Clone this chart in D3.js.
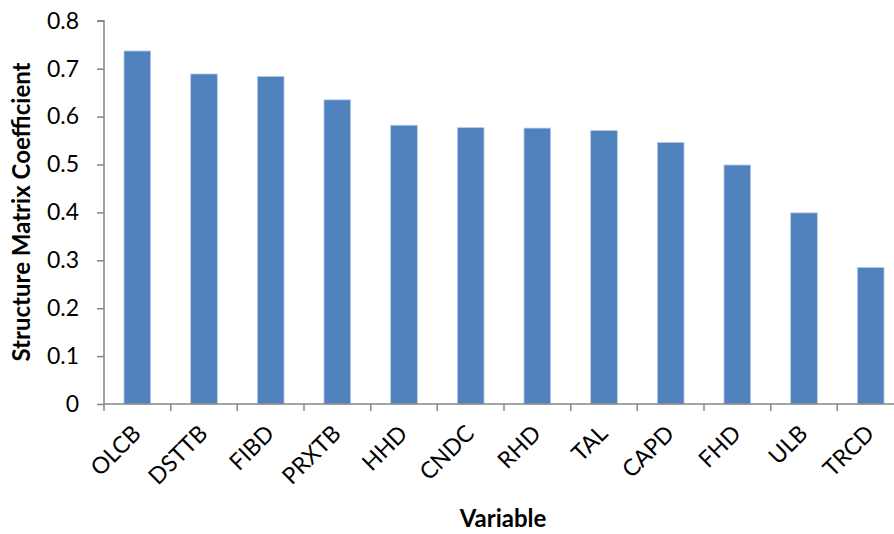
<!DOCTYPE html>
<html><head><meta charset="utf-8">
<script src="https://cdn.jsdelivr.net/npm/d3@7"></script>
<style>body{margin:0;background:#fff;} svg{display:block;}</style>
</head><body>
<svg id="c" width="894" height="534"></svg>
<script>
const categories = ["OLCB","DSTTB","FIBD","PRXTB","HHD","CNDC","RHD","TAL","CAPD","FHD","ULB","TRCD"];
const values = [0.737,0.689,0.684,0.635,0.582,0.577,0.576,0.571,0.546,0.499,0.399,0.285];
const yTicks = [0,0.1,0.2,0.3,0.4,0.5,0.6,0.7,0.8];
const yTitle = "Structure Matrix Coefficient";
const xTitle = "Variable";

(function(){
const svg = d3.select("#c");
const mLeft = 104, mRight = 904, mTop = 20.8, mBottom = 404;
const font = "Lato, 'Open Sans', sans-serif";
const axisColor = "#868686";

const x = d3.scaleBand().domain(categories).range([mLeft, mRight]).paddingInner(0.6).paddingOuter(0.3);
const y = d3.scaleLinear().domain([0, 0.8]).range([mBottom, mTop]);

// bars
svg.append("g").selectAll("rect").data(categories).join("rect")
  .attr("x", d => x(d))
  .attr("y", (d,i) => y(values[i]))
  .attr("width", x.bandwidth())
  .attr("height", (d,i) => y(0) - y(values[i]))
  .attr("fill", "#4F81BD")
  .attr("stroke", "#B9CDE5").attr("stroke-width", 0.8);

// y axis
const ya = svg.append("g").attr("transform", `translate(${mLeft},0)`)
  .call(d3.axisLeft(y).tickValues(yTicks).tickFormat(d => d === 0 ? "0" : d3.format(".1f")(d)).tickSize(7).tickPadding(18));
ya.select(".domain").attr("stroke", axisColor).attr("stroke-width", 1.5).attr("d", `M-7,${mTop}H0V${mBottom}`);
ya.selectAll(".tick line").attr("stroke", axisColor).attr("stroke-width", 1.5);
ya.selectAll(".tick text").attr("font-family", font).attr("font-size", 23).attr("fill", "#000");

// x axis
const step = x.step();
const xTickPos = d3.range(categories.length + 1).map(i => mLeft + i * step);
const xa = svg.append("g");
xa.append("line").attr("x1", mLeft).attr("x2", 894).attr("y1", mBottom).attr("y2", mBottom)
  .attr("stroke", axisColor).attr("stroke-width", 1.5);
xa.selectAll("line.t").data(xTickPos).join("line").attr("class","t")
  .attr("x1", d => d).attr("x2", d => d).attr("y1", mBottom).attr("y2", mBottom + 7)
  .attr("stroke", axisColor).attr("stroke-width", 1.5);
xa.selectAll("text").data(categories).join("text")
  .attr("transform", d => `translate(${x(d) + x.bandwidth()/2 + 5},${mBottom + 31}) rotate(-45)`)
  .attr("text-anchor", "end")
  .attr("font-family", font).attr("font-size", 23).attr("fill", "#000")
  .text(d => d);

// titles
svg.append("text").attr("transform", `translate(30,212) rotate(-90)`)
  .attr("text-anchor", "middle").attr("font-family", font).attr("font-weight", "bold")
  .attr("font-size", 24).attr("fill", "#000").text(yTitle);
svg.append("text").attr("x", 503).attr("y", 527)
  .attr("text-anchor", "middle").attr("font-family", font).attr("font-weight", "bold")
  .attr("font-size", 24).attr("fill", "#000").text(xTitle);
})();
</script>
</body></html>
